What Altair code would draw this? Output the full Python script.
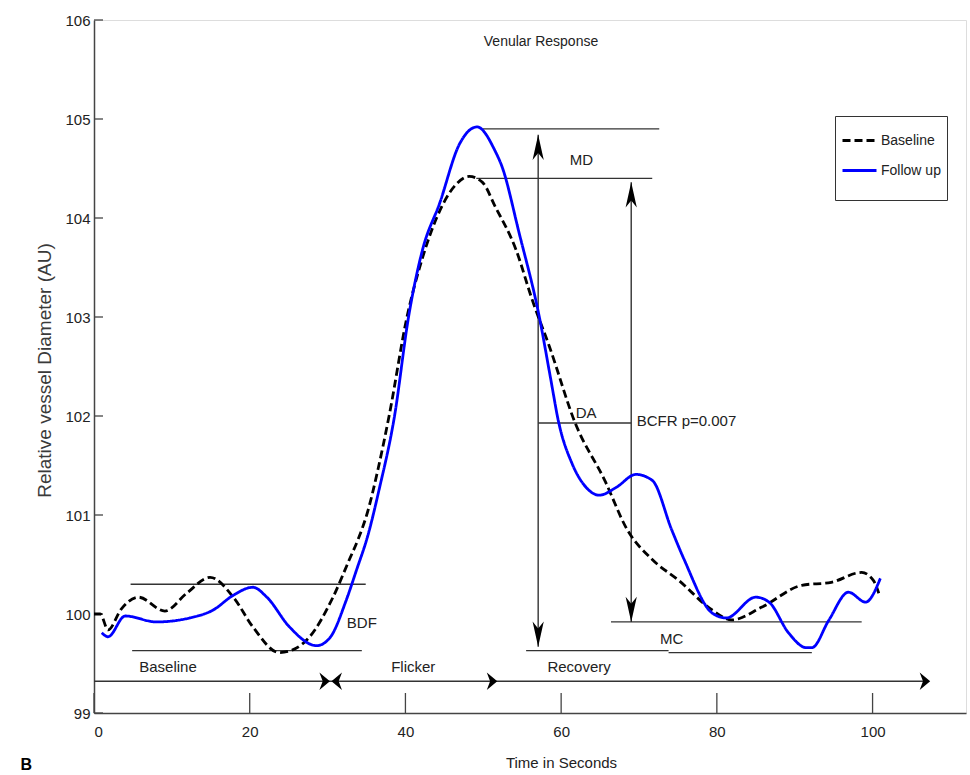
import altair as alt
import pandas as pd

# ---- data ----
time_baseline = [0.0, 0.8, 1.8, 3.5, 5.7, 9.1, 11.9, 14.9, 17.9, 20.4, 23.8, 25.6, 27.7,
                 30.7, 32.8, 34.0, 35.1, 36.5, 37.9, 40.2, 42.2, 44.0, 46.4, 48.2, 49.9,
                 51.5, 54.2, 56.3, 58.5, 61.8, 65.6, 68.5, 71.7, 75.1, 79.4, 81.9, 85.8,
                 90.9, 94.7, 98.6, 100.1, 100.8]
diam_baseline = [100.0, 100.0, 99.84, 100.05, 100.17, 100.03, 100.21, 100.37, 100.17, 99.87,
                 99.61, 99.64, 99.77, 100.17, 100.55, 100.77, 101.02, 101.47, 102.0, 103.0,
                 103.6, 104.0, 104.33, 104.42, 104.36, 104.12, 103.68, 103.17, 102.70, 101.93,
                 101.35, 100.85, 100.55, 100.34, 100.04, 99.94, 100.07, 100.29, 100.32,
                 100.42, 100.34, 100.21]

time_followup = [1.0, 1.8, 4.0, 8.0, 12.3, 15.3, 17.9, 20.4, 22.2, 25.1, 28.6, 30.3, 32.4,
                 33.7, 35.2, 36.6, 38.6, 40.4, 42.2, 44.4, 46.9, 49.2, 51.5, 52.4, 54.6,
                 57.2, 58.6, 59.7, 61.4, 63.2, 64.9, 67.1, 69.6, 71.7, 74.2, 75.8, 79.4,
                 81.2, 85.0, 86.7, 89.2, 91.5, 92.2, 94.4, 96.9, 99.1, 101.0]
diam_followup = [99.81, 99.77, 99.98, 99.92, 99.96, 100.04, 100.19, 100.27, 100.17, 99.87,
                 99.68, 99.76, 100.14, 100.44, 100.8, 101.25, 102.0, 103.0, 103.68, 104.15,
                 104.74, 104.92, 104.68, 104.52, 103.85, 103.0, 102.4, 101.93, 101.52,
                 101.28, 101.20, 101.28, 101.41, 101.35, 100.85, 100.55, 100.01, 99.96,
                 100.17, 100.12, 99.81, 99.66, 99.66, 99.94, 100.22, 100.12, 100.36]

x_ticks = [0, 20, 40, 60, 80, 100]
y_ticks = [99, 100, 101, 102, 103, 104, 105, 106]

# annotation segments (data units)
seg_x1 = [4.7, 4.9, 0.0, 49.9, 49.1, 57.05, 66.4, 55.5, 73.8, 57.05, 69.0]
seg_x2 = [34.9, 34.4, 107.0, 72.6, 71.7, 69.0, 98.6, 73.8, 92.2, 57.05, 69.0]
seg_y1 = [100.30, 99.63, 99.32, 104.90, 104.40, 101.93, 99.92, 99.63, 99.61, 99.67, 99.92]
seg_y2 = [100.30, 99.63, 99.32, 104.90, 104.40, 101.93, 99.92, 99.63, 99.61, 104.84, 104.36]

# arrow heads: horizontal (angle 0 = right, 180 = left)
harrow_x = [30.3, 30.5, 51.8, 107.4]
harrow_y = [99.32, 99.32, 99.32, 99.32]
harrow_angle = [0, 180, 0, 0]
# vertical (angle 0 = up, 180 = down)
varrow_x = [57.05, 57.05, 69.0, 69.0]
varrow_y = [104.84, 99.67, 104.36, 99.92]
varrow_angle = [0, 180, 0, 180]

label_text = ["Baseline", "Flicker", "Recovery", "BDF", "MD", "DA", "MC"]
label_x = [9.5, 41.0, 62.3, 34.4, 62.6, 63.2, 74.2]
label_y = [99.46, 99.46, 99.46, 99.91, 104.59, 102.03, 99.75]

left_text = ["BCFR p=0.007"]
left_x = [69.7]
left_y = [101.95]

panel_text = ["B"]
panel_x = [-8.7]
panel_y = [98.47]

# ---- build tables ----
lines_df = pd.concat([
    pd.DataFrame({"t": time_baseline, "d": diam_baseline, "series": "Baseline"}),
    pd.DataFrame({"t": time_followup, "d": diam_followup, "series": "Follow up"}),
])
seg_df = pd.DataFrame({"x1": seg_x1, "x2": seg_x2, "y1": seg_y1, "y2": seg_y2})
harrow_df = pd.DataFrame({"x": harrow_x, "y": harrow_y, "a": harrow_angle})
varrow_df = pd.DataFrame({"x": varrow_x, "y": varrow_y, "a": varrow_angle})
label_df = pd.DataFrame({"x": label_x, "y": label_y, "text": label_text})
left_df = pd.DataFrame({"x": left_x, "y": left_y, "text": left_text})
panel_df = pd.DataFrame({"x": panel_x, "y": panel_y, "text": panel_text})
xt_df = pd.DataFrame({"v": x_ticks})
yt_df = pd.DataFrame({"v": y_ticks})

FONT = "Liberation Sans Narrow, Arial Narrow, Liberation Sans, Arial"
FS = 14
W, H = 872, 693
xscale = alt.Scale(domain=[0, 112], nice=False, zero=False)
yscale = alt.Scale(domain=[99, 106], nice=False, zero=False)

xaxis = alt.Axis(values=x_ticks, format="d", ticks=False, tickSize=0, grid=False,
                 domainColor="#444", domainWidth=1.5, labelFont=FONT, labelFontSize=FS + 1,
                 labelColor="#222", labelPadding=11, title="Time in Seconds", titleFont=FONT,
                 titleFontSize=FS + 1, titleFontWeight="normal", titleColor="#222",
                 titleX=467, titleY=49, titleBaseline="middle")
yaxis = alt.Axis(values=y_ticks, format="d", ticks=False, tickSize=0, grid=False,
                 domainColor="#444", domainWidth=1.5, labelFont=FONT, labelFontSize=FS + 1,
                 labelColor="#222", labelPadding=4, title="Relative vessel Diameter (AU)",
                 titleFont="Liberation Sans, Arial", titleFontSize=19, titleFontWeight="normal",
                 titleColor="#3a3a3a", titleX=-50, titleY=350, titleAngle=270,
                 titleAlign="center", titleBaseline="middle")

x_enc = alt.X("t:Q", scale=xscale, axis=xaxis)
y_enc = alt.Y("d:Q", scale=yscale, axis=yaxis)

curves = alt.Chart(lines_df).mark_line(strokeWidth=2.8, interpolate="monotone").encode(
    x=x_enc, y=y_enc,
    color=alt.Color("series:N", scale=alt.Scale(domain=["Baseline", "Follow up"],
                                                range=["#000000", "#0000ff"]),
                    legend=alt.Legend(title=" ", titleOrient="bottom", titleFontSize=14,
                                      titlePadding=2, orient="none", legendX=741,
                                      legendY=96, padding=6, strokeColor="#333",
                                      fillColor="white", symbolType="stroke",
                                      symbolSize=1156, symbolStrokeWidth=3, rowPadding=4,
                                      labelOffset=3, labelFont=FONT, labelFontSize=FS,
                                      labelColor="#222")),
    strokeDash=alt.StrokeDash("series:N", scale=alt.Scale(domain=["Baseline", "Follow up"],
                                                          range=[[8, 4], [1, 0]]),
                              legend=alt.Legend(title=" ", titleOrient="bottom",
                                                orient="none", legendX=741, legendY=96)),
)

segs = alt.Chart(seg_df).mark_rule(color="#333", strokeWidth=1.4).encode(
    x=alt.X("x1:Q", scale=xscale), x2="x2:Q",
    y=alt.Y("y1:Q", scale=yscale), y2="y2:Q")

HPATH = "M0,0 L-1.75,-1.45 L-1.2,0 L-1.75,1.45 Z"
VPATH = "M0,0 L-0.8,3.6 L0,2.6 L0.8,3.6 Z"

harrows = alt.Chart(harrow_df).mark_point(shape=HPATH, size=144, filled=True, color="black",
                                          opacity=1, strokeWidth=0).encode(
    x=alt.X("x:Q", scale=xscale), y=alt.Y("y:Q", scale=yscale),
    angle=alt.Angle("a:Q", scale=None))

varrows = alt.Chart(varrow_df).mark_point(shape=VPATH, size=196, filled=True, color="black",
                                          opacity=1, strokeWidth=0).encode(
    x=alt.X("x:Q", scale=xscale), y=alt.Y("y:Q", scale=yscale),
    angle=alt.Angle("a:Q", scale=None))

labels = alt.Chart(label_df).mark_text(font=FONT, fontSize=FS + 1, color="#222",
                                       baseline="middle", align="center").encode(
    x=alt.X("x:Q", scale=xscale), y=alt.Y("y:Q", scale=yscale), text="text:N")

left_labels = alt.Chart(left_df).mark_text(font=FONT, fontSize=FS + 1, color="#222",
                                           baseline="middle", align="left").encode(
    x=alt.X("x:Q", scale=xscale), y=alt.Y("y:Q", scale=yscale), text="text:N")

panel = alt.Chart(panel_df).mark_text(font="Liberation Sans, Arial", fontSize=16,
                                      fontWeight="bold", color="black",
                                      baseline="middle", align="center").encode(
    x=alt.X("x:Q", scale=xscale), y=alt.Y("y:Q", scale=yscale), text="text:N")

xticks = alt.Chart(xt_df).mark_rule(color="#444", strokeWidth=1.3).encode(
    x=alt.X("v:Q", scale=xscale), y=alt.value(H), y2=alt.value(H - 20))
yticks = alt.Chart(yt_df).mark_rule(color="#444", strokeWidth=1.3).encode(
    y=alt.Y("v:Q", scale=yscale), x=alt.value(0), x2=alt.value(9))

chart = alt.layer(segs, xticks, yticks, curves, harrows, varrows, labels, left_labels,
                  panel).properties(
    width=W, height=H,
    title=alt.Title("Venular Response", font=FONT, fontSize=FS, fontWeight="normal",
                    color="#222", anchor="middle", dx=11, dy=40),
    autosize=alt.AutoSizeParams(type="none"),
    padding={"left": 94, "top": 20, "right": 4, "bottom": 62},
).configure_view(stroke=None).configure(background="white")

chart.save("out.html", embed_options={"renderer": "svg", "actions": False})
